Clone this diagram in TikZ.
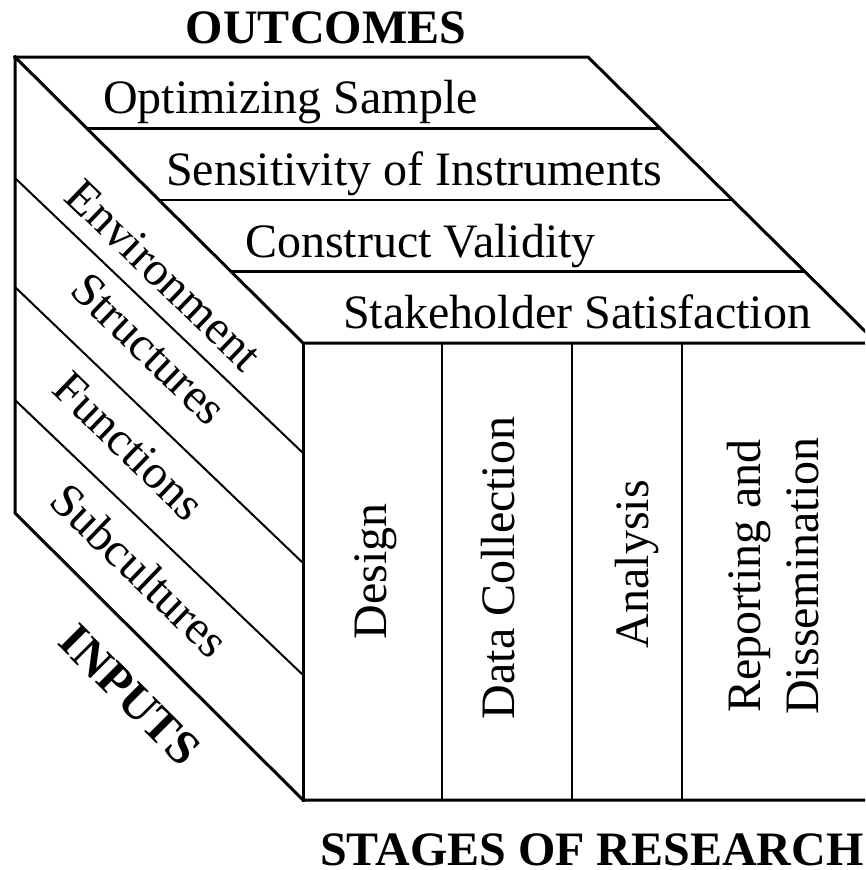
\documentclass[tikz,border=0pt]{standalone}
\usepackage{fontspec}
\setmainfont{Liberation Serif}
\usetikzlibrary{calc}
\begin{document}
\begin{tikzpicture}[x=1pt,y=-1pt,
  edge/.style={line width=3pt, line join=miter, line cap=rect},
  rule/.style={line width=2.4pt},
  thinrule/.style={line width=2pt},
  lbl/.style={inner sep=0pt, font=\fontsize{48}{58}\selectfont},
  title/.style={inner sep=0pt, font=\fontsize{48}{58}\selectfont\bfseries}]
\useasboundingbox (0,0) rectangle (865,870);
\clip (0,0) rectangle (865,870);

% cube corners
\coordinate (A) at (15,57);    % back top-left
\coordinate (B) at (588,57);   % back top-right
\coordinate (D) at (303,343);  % front top-left
\coordinate (C) at (877,343);  % front top-right
\coordinate (E) at (303,800);  % front bottom-left
\coordinate (G) at (877,800);  % front bottom-right
\coordinate (F) at (15,513);   % back bottom-left

% top face: outcome bands
\foreach \t [count=\i] in {0.25,0.5,0.75}{
  \coordinate (tl\i) at ($(A)!\t!(D)$);
  \coordinate (tr\i) at ($(B)!\t!(C)$);
  \draw[rule] (tl\i) -- (tr\i);
}

% left face: input bands
\coordinate (l1) at (15,178);  \coordinate (r1) at (303,453);
\coordinate (l2) at (15,287);  \coordinate (r2) at (303,563);
\coordinate (l3) at (15,400);  \coordinate (r3) at (303,675);
\foreach \i in {1,2,3}{ \draw[thinrule] (l\i) -- (r\i); }

% front face: stages of research
\foreach \x [count=\i] in {442,572,682}{
  \coordinate (ft\i) at (\x,343);
  \coordinate (fb\i) at (\x,800);
  \draw[thinrule] (ft\i) -- (fb\i);
}

% outer edges
\draw[edge] (A) -- (B) -- (C);
\draw[edge] (A) -- (D) -- (C);
\draw[edge] (A) -- (F) -- (E) -- (G);
\draw[edge] (D) -- (E);
\draw[edge] (C) -- (G);

% labels on the top face
\node[lbl, anchor=base west] (o1) at (103,113) {Optimizing Sample};
\node[lbl, anchor=base west] (o2) at (166,185) {Sensitivity of Instruments};
\node[lbl, anchor=base west] (o3) at (245,257) {Construct Validity};
\node[lbl, anchor=base west] (o4) at (343,328) {Stakeholder Satisfaction};

% labels on the left face
\node[lbl, rotate=-44] (i1) at (164,275) {Environment};
\node[lbl, rotate=-44] (i2) at (149,349) {Structures};
\node[lbl, rotate=-44] (i3) at (129,446) {Functions};
\node[lbl, rotate=-44] (i4) at (140,570) {Subcultures};

% labels on the front face
\node[lbl, rotate=90, anchor=base] (s1) at (386.5,571) {Design};
\node[lbl, rotate=90, anchor=base] (s2) at (514,568) {Data Collection};
\node[lbl, rotate=90, anchor=base] (s3) at (648,564) {Analysis};
\node[lbl, rotate=90, anchor=south, align=center] (s4) at (819,576) {Reporting and\\Dissemination};

% axis titles
\node[title, anchor=base] (outcomes) at (326,43) {OUTCOMES};
\node[title, rotate=-45] (inputs) at (130,695) {INPUTS};
\node[title, anchor=base west] (stages) at (320,865) {STAGES OF RESEARCH};
\end{tikzpicture}
\end{document}
